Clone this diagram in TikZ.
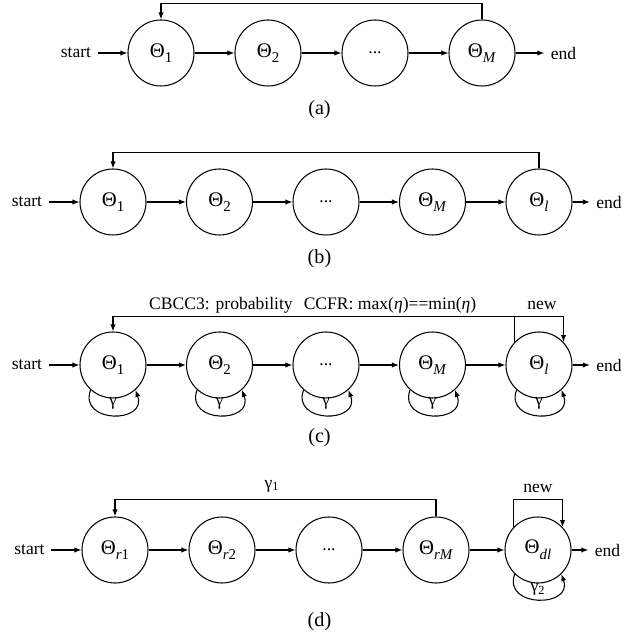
\documentclass[tikz,border=0pt]{standalone}
\usepackage{fontspec}
\setmainfont{Liberation Serif}
\usepackage{tikz}
\usetikzlibrary{arrows.meta}

\newcommand{\thet}[1]{{\fontsize{11.8}{13}\selectfont Θ\raisebox{-3.2pt}{\fontsize{8.5}{10}\selectfont #1}}}

\begin{document}
\begin{tikzpicture}[
        state/.style={draw, circle, minimum size=1.32cm, inner sep=0pt},
        lbl/.style={font=\fontsize{10}{12}\selectfont},
        captext/.style={font=\fontsize{11.5}{13}\selectfont},
        every path/.style={line width=0.6pt},
        >={Latex[length=4pt,width=3pt]}
    ]
        \useasboundingbox (0,0) rectangle (12.78,12.82);

        % Row (a): chain with feedback
        \node[lbl] (sa) at (1.52,11.76) {start};
        \node[state] (a1) at (3.22,11.76) {\thet{1}};
        \node[state] (a2) at (5.36,11.76) {\thet{2}};
        \node[state] (a3) at (7.50,11.76) {...};
        \node[state] (a4) at (9.64,11.76) {\thet{\textit{M}}};
        \node[lbl] (ea) at (11.27,11.76) {end};
        \draw[->] (sa) -- (a1);
        \draw[->] (a1) -- (a2);
        \draw[->] (a2) -- (a3);
        \draw[->] (a3) -- (a4);
        \draw[->] (a4) -- (ea);
        \draw[->] (a4.north) -- ++(0,0.32) -| (a1.north);
        \node[captext] (capa) at (6.39,10.62) {(a)};

        % Row (b): extra state
        \node[lbl] (sb) at (0.54,8.78) {start};
        \node[state] (b1) at (2.26,8.78) {\thet{1}};
        \node[state] (b2) at (4.39,8.78) {\thet{2}};
        \node[state] (b3) at (6.52,8.78) {...};
        \node[state] (b4) at (8.65,8.78) {\thet{\textit{M}}};
        \node[state] (b5) at (10.78,8.78) {\thet{\textit{l}}};
        \node[lbl] (eb) at (12.18,8.78) {end};
        \draw[->] (sb) -- (b1);
        \draw[->] (b1) -- (b2);
        \draw[->] (b2) -- (b3);
        \draw[->] (b3) -- (b4);
        \draw[->] (b4) -- (b5);
        \draw[->] (b5) -- (eb);
        \draw[->] (b5.north) -- ++(0,0.32) -| (b1.north);
        \node[captext] (capb) at (6.39,7.64) {(b)};

        % Row (c): self loops
        \node[lbl] (sc) at (0.54,5.52) {start};
        \node[state] (c1) at (2.26,5.52) {\thet{1}};
        \node[state] (c2) at (4.39,5.52) {\thet{2}};
        \node[state] (c3) at (6.52,5.52) {...};
        \node[state] (c4) at (8.65,5.52) {\thet{\textit{M}}};
        \node[state] (c5) at (10.78,5.52) {\thet{\textit{l}}};
        \node[lbl] (ec) at (12.18,5.52) {end};
        \draw[->] (sc) -- (c1);
        \draw[->] (c1) -- (c2);
        \draw[->] (c2) -- (c3);
        \draw[->] (c3) -- (c4);
        \draw[->] (c4) -- (c5);
        \draw[->] (c5) -- (ec);
        \draw[->] (c5.137) -- ++(0,0.51) -| (c5.43);
        \draw[->] (c5.137) -- ++(0,0.51) -| (c1.north);
        \foreach \n in {c1,c2,c3,c4,c5} {
            \draw[->] (\n.-132) .. controls +(-110:0.72) and +(-70:0.72) .. (\n.-48);
            \node[lbl, yshift=-0.1cm] (g\n) at (\n.south) {γ};
        }
        \node[lbl] (prob) at (4.42,6.72) {CBCC3: probability};
        \node[lbl] (ccfr) at (7.80,6.72) {CCFR: max(\textit{η})==min(\textit{η})};
        \node[lbl] (newc) at (10.84,6.72) {new};
        \node[captext] (capc) at (6.39,4.06) {(c)};

        % Row (d): two groups
        \node[lbl] (sd) at (0.59,1.82) {start};
        \node[state] (d1) at (2.30,1.82) {\thet{\textit{r}1}};
        \node[state] (d2) at (4.44,1.82) {\thet{\textit{r}2}};
        \node[state] (d3) at (6.58,1.82) {...};
        \node[state] (d4) at (8.72,1.82) {\thet{\textit{rM}}};
        \node[state] (d5) at (10.76,1.82) {\thet{\textit{dl}}};
        \node[lbl] (ed) at (12.15,1.82) {end};
        \draw[->] (sd) -- (d1);
        \draw[->] (d1) -- (d2);
        \draw[->] (d2) -- (d3);
        \draw[->] (d3) -- (d4);
        \draw[->] (d4) -- (d5);
        \draw[->] (d5) -- (ed);
        \draw[->] (d4.north) -- ++(0,0.34) -| (d1.north);
        \draw[->] (d5.137) -- ++(0,0.55) -| (d5.43);
        \draw[->] (d5.-134) .. controls +(-110:0.72) and +(-70:0.72) .. (d5.-46);
        \node[lbl] (gone) at (5.44,3.10) {γ\textsubscript{1}};
        \node[lbl] (newd) at (10.76,3.06) {new};
        \node[lbl, yshift=-0.12cm] (gtwo) at (d5.south) {γ\textsubscript{2}};
        \node[captext] (capd) at (6.39,0.38) {(d)};
    \end{tikzpicture}
\end{document}
